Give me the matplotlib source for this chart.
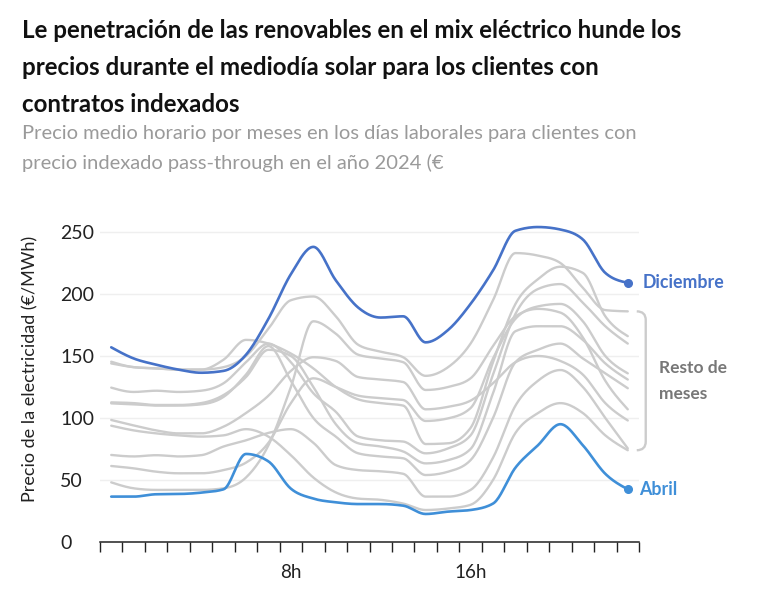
import numpy as np
import matplotlib
matplotlib.use("Agg")
import matplotlib.pyplot as plt
from matplotlib.path import Path
from matplotlib.patches import PathPatch

plt.rcParams['font.family'] = ['Lato', 'DejaVu Sans']

# ---------------- data ----------------
hours = list(range(24))
tick_hours = [8, 16]
tick_labels = ["8h", "16h"]
y_ticks = [0, 50, 100, 150, 200, 250]

diciembre = [157, 148, 143, 139, 136.5, 138, 151, 180, 216, 238, 211, 189,
             181, 182, 161, 171, 192, 219, 251, 254, 252, 244, 217, 209]
abril = [36.6, 36.6, 38.5, 38.7, 39.8, 42.5, 71, 65, 43, 35, 32, 30.6,
         30.6, 29.3, 22.6, 24.5, 25.8, 31, 60, 78, 95, 78, 55, 42.5]

noviembre = [144, 141, 140, 139, 139, 141, 150, 172, 195, 198, 182, 159,
             153.5, 149, 134, 141, 160, 195, 233, 231, 225, 205, 187, 186]
enero = [48.1, 43.3, 42, 42, 42, 43.3, 52, 78, 125, 178, 168, 151,
         148, 145, 122.6, 125, 132, 158, 182, 188, 185, 165, 130, 107]
febrero = [61.3, 59.4, 56.7, 55.4, 55.4, 58, 64, 80, 112, 132, 125, 118,
           116, 114.5, 97.6, 99.7, 108, 148, 180, 190, 192, 178, 150, 136]
octubre = [98.4, 94, 90, 87.6, 87.6, 93, 104, 118, 138, 149, 146, 133,
           131, 129, 107, 109, 114, 128, 145, 150, 146, 135, 112, 98]
agosto = [145.4, 141, 140, 139, 139, 147, 163, 160, 152, 140, 125, 115,
          112, 110, 79, 79.6, 92, 145, 192, 212, 222, 217, 182, 166]
julio = [124.5, 121, 122, 121, 122, 128, 145, 160, 145, 120, 105, 85,
         82, 81, 71.5, 75.5, 86, 135, 184, 204, 208, 193, 174, 160]
septiembre = [112.6, 112, 110.5, 110.5, 112, 118.5, 133, 155, 150, 125, 95, 79.6,
              77, 73, 63.4, 66, 75, 120, 170, 174, 174, 163, 144, 131]
junio = [111.8, 111, 110, 110, 111, 117, 135, 158, 130, 100, 85, 71.5,
         69, 67.5, 54, 56.7, 66, 100, 145, 155, 160, 148, 136, 124]
marzo = [93.8, 90, 87.6, 86, 85, 86, 91, 85, 70, 52, 40, 35,
         34, 31, 25.8, 27, 30, 50, 88, 104, 112, 104, 86, 74]
mayo = [70.2, 69, 70, 69, 70, 77, 82, 88, 91, 80, 62, 58,
        57, 55, 36.6, 36.6, 42, 68, 110, 130, 138.7, 125, 100, 75.5]

resto = [noviembre, enero, febrero, octubre, agosto, julio,
         septiembre, junio, marzo, mayo]

# ---------------- helpers ----------------
def monotone_curve(x, y, n=20):
    """Monotone cubic (like d3.curveMonotoneX) through the data points."""
    x = np.asarray(x, float)
    y = np.asarray(y, float)
    h = np.diff(x)
    s = np.diff(y) / h
    m = np.zeros_like(y)
    for i in range(1, len(y) - 1):
        s0, s1 = s[i - 1], s[i]
        p = (s0 * h[i] + s1 * h[i - 1]) / (h[i - 1] + h[i])
        m[i] = (np.sign(s0) + np.sign(s1)) * min(abs(s0), abs(s1), 0.5 * abs(p))
    m[0] = (3 * s[0] - m[1]) / 2
    m[-1] = (3 * s[-1] - m[-2]) / 2
    xs, ys = [], []
    for i in range(len(x) - 1):
        t = np.linspace(0, 1, n, endpoint=False)
        h00 = 2 * t**3 - 3 * t**2 + 1
        h10 = t**3 - 2 * t**2 + t
        h01 = -2 * t**3 + 3 * t**2
        h11 = t**3 - t**2
        xs.append(x[i] + t * h[i])
        ys.append(h00 * y[i] + h10 * h[i] * m[i] + h01 * y[i + 1] + h11 * h[i] * m[i + 1])
    xs.append([x[-1]])
    ys.append([y[-1]])
    return np.concatenate(xs), np.concatenate(ys)

# ---------------- figure ----------------
W, H = 761, 594
fig = plt.figure(figsize=(W / 100, H / 100), dpi=100)
ax_h = 260 * 1.24
ax = fig.add_axes([100 / W, 52 / H, 539 / W, ax_h / H])

grey = "#cccccc"
c_dic = "#4672c8"
c_abr = "#3f8fd8"

for arr in resto:
    xs, ys = monotone_curve(hours, arr)
    ax.plot(xs, ys, color=grey, lw=1.7, solid_capstyle="round", zorder=2)

xs, ys = monotone_curve(hours, diciembre)
ax.plot(xs, ys, color=c_dic, lw=1.9, zorder=4, solid_capstyle="round")
ax.plot([hours[-1]], [diciembre[-1]], "o", ms=5.5, color=c_dic, zorder=5, clip_on=False)

xs, ys = monotone_curve(hours, abril)
ax.plot(xs, ys, color=c_abr, lw=1.9, zorder=4, solid_capstyle="round")
ax.plot([hours[-1]], [abril[-1]], "o", ms=5.5, color=c_abr, zorder=5, clip_on=False)

ax.set_xlim(-0.5, 23.5)
ax.set_ylim(0, 260)

for sp in ["top", "right", "left"]:
    ax.spines[sp].set_visible(False)
ax.spines["bottom"].set_color("#222222")
ax.spines["bottom"].set_linewidth(1.1)
ax.spines["bottom"].set_zorder(6)

ax.set_xticks(tick_hours)
ax.set_xticklabels(tick_labels)
ax.set_xticks(np.arange(-0.5, 24, 1), minor=True)
ax.tick_params(axis="x", which="major", length=0, pad=16, labelsize=13.5, labelcolor="#222222")
ax.tick_params(axis="x", which="minor", length=7, width=1, color="#222222", direction="out")

ax.set_yticks(y_ticks)
ax.set_yticklabels([str(v) for v in y_ticks])
ax.tick_params(axis="y", length=0, pad=28.8, labelsize=14, labelcolor="#222222")
for t in ax.get_yticklabels():
    t.set_horizontalalignment("left")
ax.yaxis.grid(True, color="#efefef", lw=1)
ax.set_axisbelow(True)

# bracket for the rest of months
ends = [a[-1] for a in resto]
ytop, ybot = max(ends), min(ends)
x0, x1 = 23.4, 23.8
r = 7
verts = [(x0, ytop), (x1, ytop), (x1, ytop - r), (x1, ybot + r), (x1, ybot), (x0, ybot)]
codes = [Path.MOVETO, Path.CURVE3, Path.CURVE3, Path.LINETO, Path.CURVE3, Path.CURVE3]
ax.add_patch(PathPatch(Path(verts, codes), fill=False, edgecolor=grey, lw=1.7, clip_on=False))

ax.text(23.67, diciembre[-1], "Diciembre", color=c_dic, fontsize=12.8, fontweight="bold",
        va="center", ha="left", clip_on=False)
ax.text(23.49, abril[-1], "Abril", color=c_abr, fontsize=12.8, fontweight="bold",
        va="center", ha="left", clip_on=False)
ax.text(24.38, (ytop + ybot) / 2, "Resto de\nmeses", color="#777777", fontsize=12.5,
        fontweight="bold", va="center", ha="left", linespacing=1.75, clip_on=False)

# axis label
fig.text(30 / W, 1 - 369 / H, "Precio de la electricidad (€/MWh)", rotation=90,
         fontsize=13, color="#222222", ha="center", va="center")

# titles
title_lines = ["Le penetración de las renovables en el mix eléctrico hunde los",
               "precios durante el mediodía solar para los clientes con",
               "contratos indexados"]
for i, line in enumerate(title_lines):
    fig.text(22 / W, 1 - (31 + 36.5 * i) / H, line, fontsize=17.4, fontweight="bold",
             color="#111111", ha="left", va="center")
sub_lines = ["Precio medio horario por meses en los días laborales para clientes con",
             "precio indexado pass-through en el año 2024 (€"]
for i, line in enumerate(sub_lines):
    fig.text(22 / W, 1 - (133 + 30 * i) / H, line, fontsize=14.5, color="#9a9a9a",
             ha="left", va="center")

fig.savefig("out.png", dpi=100)
